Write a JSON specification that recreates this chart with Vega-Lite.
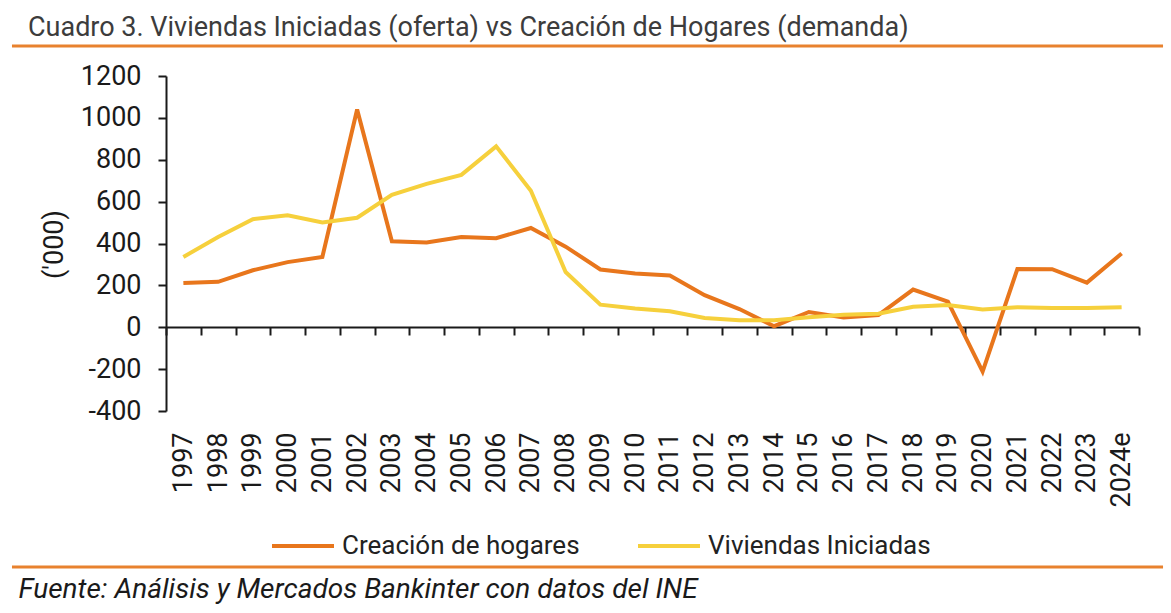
{
  "$schema": "https://vega.github.io/schema/vega-lite/v6.json",
  "width": 973,
  "height": 335,
  "autosize": {"type": "none"},
  "padding": {"left": 166, "top": 76, "right": 32, "bottom": 202},
  "background": "white",
  "config": {"view": {"stroke": null}, "font": "Roboto"},
  "title": {
    "text": "Cuadro 3. Viviendas Iniciadas (oferta) vs Creación de Hogares (demanda)",
    "anchor": "start",
    "frame": "group",
    "dx": -138,
    "offset": 2,
    "font": "Roboto",
    "fontSize": 27,
    "fontWeight": "normal",
    "color": "#3c3c3c"
  },
  "layer": [
    {
      "data": {
        "values": [
          {"year": "1997", "serie": "Creación de hogares", "value": 211},
          {"year": "1998", "serie": "Creación de hogares", "value": 217},
          {"year": "1999", "serie": "Creación de hogares", "value": 272},
          {"year": "2000", "serie": "Creación de hogares", "value": 311},
          {"year": "2001", "serie": "Creación de hogares", "value": 336},
          {"year": "2002", "serie": "Creación de hogares", "value": 1040},
          {"year": "2003", "serie": "Creación de hogares", "value": 411},
          {"year": "2004", "serie": "Creación de hogares", "value": 405},
          {"year": "2005", "serie": "Creación de hogares", "value": 431},
          {"year": "2006", "serie": "Creación de hogares", "value": 425},
          {"year": "2007", "serie": "Creación de hogares", "value": 474},
          {"year": "2008", "serie": "Creación de hogares", "value": 385},
          {"year": "2009", "serie": "Creación de hogares", "value": 276},
          {"year": "2010", "serie": "Creación de hogares", "value": 257},
          {"year": "2011", "serie": "Creación de hogares", "value": 247},
          {"year": "2012", "serie": "Creación de hogares", "value": 153},
          {"year": "2013", "serie": "Creación de hogares", "value": 87},
          {"year": "2014", "serie": "Creación de hogares", "value": 5},
          {"year": "2015", "serie": "Creación de hogares", "value": 73},
          {"year": "2016", "serie": "Creación de hogares", "value": 47},
          {"year": "2017", "serie": "Creación de hogares", "value": 58},
          {"year": "2018", "serie": "Creación de hogares", "value": 180},
          {"year": "2019", "serie": "Creación de hogares", "value": 122},
          {"year": "2020", "serie": "Creación de hogares", "value": -212},
          {"year": "2021", "serie": "Creación de hogares", "value": 278},
          {"year": "2022", "serie": "Creación de hogares", "value": 277},
          {"year": "2023", "serie": "Creación de hogares", "value": 213},
          {"year": "2024e", "serie": "Creación de hogares", "value": 352},
          {"year": "1997", "serie": "Viviendas Iniciadas", "value": 336},
          {"year": "1998", "serie": "Viviendas Iniciadas", "value": 431},
          {"year": "1999", "serie": "Viviendas Iniciadas", "value": 516},
          {"year": "2000", "serie": "Viviendas Iniciadas", "value": 535},
          {"year": "2001", "serie": "Viviendas Iniciadas", "value": 500},
          {"year": "2002", "serie": "Viviendas Iniciadas", "value": 523},
          {"year": "2003", "serie": "Viviendas Iniciadas", "value": 632},
          {"year": "2004", "serie": "Viviendas Iniciadas", "value": 685},
          {"year": "2005", "serie": "Viviendas Iniciadas", "value": 728},
          {"year": "2006", "serie": "Viviendas Iniciadas", "value": 864},
          {"year": "2007", "serie": "Viviendas Iniciadas", "value": 652},
          {"year": "2008", "serie": "Viviendas Iniciadas", "value": 264},
          {"year": "2009", "serie": "Viviendas Iniciadas", "value": 108},
          {"year": "2010", "serie": "Viviendas Iniciadas", "value": 90},
          {"year": "2011", "serie": "Viviendas Iniciadas", "value": 76},
          {"year": "2012", "serie": "Viviendas Iniciadas", "value": 44},
          {"year": "2013", "serie": "Viviendas Iniciadas", "value": 34},
          {"year": "2014", "serie": "Viviendas Iniciadas", "value": 33},
          {"year": "2015", "serie": "Viviendas Iniciadas", "value": 48},
          {"year": "2016", "serie": "Viviendas Iniciadas", "value": 60},
          {"year": "2017", "serie": "Viviendas Iniciadas", "value": 65},
          {"year": "2018", "serie": "Viviendas Iniciadas", "value": 98},
          {"year": "2019", "serie": "Viviendas Iniciadas", "value": 106},
          {"year": "2020", "serie": "Viviendas Iniciadas", "value": 85},
          {"year": "2021", "serie": "Viviendas Iniciadas", "value": 96},
          {"year": "2022", "serie": "Viviendas Iniciadas", "value": 92},
          {"year": "2023", "serie": "Viviendas Iniciadas", "value": 92},
          {"year": "2024e", "serie": "Viviendas Iniciadas", "value": 96}
        ]
      },
      "mark": {"type": "line", "strokeWidth": 4, "strokeJoin": "miter"},
      "encoding": {
        "x": {
          "field": "year",
          "type": "ordinal",
          "sort": null,
          "bandPosition": 0.5,
          "scale": {"type": "band", "paddingInner": 0, "paddingOuter": 0},
          "axis": {
            "orient": "bottom",
            "offset": -84,
            "tickBand": "extent",
            "grid": false,
            "domainColor": "#1a1a1a",
            "domainWidth": 2,
            "tickColor": "#1a1a1a",
            "tickWidth": 2,
            "tickSize": 8,
            "labelAngle": -90,
            "labelPadding": 97,
            "labelFont": "Roboto",
            "labelFontSize": 27,
            "labelColor": "#1a1a1a",
            "labelOverlap": false,
            "title": "Fuente: Análisis y Mercados Bankinter con datos del INE",
            "titleX": -148,
            "titleY": 270,
            "titleAnchor": "start",
            "titleAlign": "left",
            "titleBaseline": "alphabetic",
            "titleFont": "Roboto",
            "titleFontSize": 28,
            "titleFontStyle": "italic",
            "titleFontWeight": "normal",
            "titleColor": "#1a1a1a"
          }
        },
        "y": {
          "field": "value",
          "type": "quantitative",
          "scale": {"domain": [-400, 1200], "nice": false, "zero": false},
          "axis": {
            "values": [-400, -200, 0, 200, 400, 600, 800, 1000, 1200],
            "labelExpr": "'' + datum.value",
            "grid": false,
            "domainColor": "#1a1a1a",
            "domainWidth": 2,
            "tickColor": "#1a1a1a",
            "tickWidth": 2,
            "tickSize": 8,
            "labelPadding": 17,
            "labelFont": "Roboto",
            "labelFontSize": 27,
            "labelColor": "#1a1a1a",
            "title": "('000)",
            "titleFont": "Roboto",
            "titleFontSize": 27,
            "titleFontWeight": "normal",
            "titleColor": "#1a1a1a",
            "titleX": -112,
            "titleY": 168,
            "titleAngle": -90,
            "titleAlign": "center",
            "titleBaseline": "middle"
          }
        },
        "color": {
          "field": "serie",
          "type": "nominal",
          "scale": {
            "domain": ["Creación de hogares", "Viviendas Iniciadas"],
            "range": ["#E8761C", "#F6D03C"]
          },
          "legend": {
            "orient": "none",
            "legendX": 104,
            "legendY": 437,
            "direction": "horizontal",
            "title": null,
            "symbolType": "stroke",
            "symbolSize": 3844,
            "symbolStrokeWidth": 4,
            "labelFont": "Roboto",
            "labelFontSize": 26,
            "labelLimit": 500,
            "labelColor": "#222222",
            "labelOffset": 6,
            "columnPadding": 50
          }
        }
      }
    },
    {
      "data": {"values": [{}]},
      "mark": {"type": "rule", "color": "#E8822E", "strokeWidth": 3},
      "encoding": {
        "x": {"datum": -0.1583, "type": "quantitative", "scale": {"domain": [0, 1], "nice": false, "zero": false}, "axis": null},
        "x2": {"datum": 1.0247},
        "y": {"datum": 1.0896, "type": "quantitative", "scale": {"domain": [0, 1], "nice": false, "zero": false}, "axis": null}
      }
    },
    {
      "data": {"values": [{}]},
      "mark": {"type": "rule", "color": "#E8822E", "strokeWidth": 3},
      "encoding": {
        "x": {"datum": -0.1583, "type": "quantitative", "scale": {"domain": [0, 1], "nice": false, "zero": false}, "axis": null},
        "x2": {"datum": 1.0247},
        "y": {"datum": -0.4657, "type": "quantitative", "scale": {"domain": [0, 1], "nice": false, "zero": false}, "axis": null}
      }
    }
  ],
  "resolve": {"scale": {"x": "independent", "y": "independent"}}
}
